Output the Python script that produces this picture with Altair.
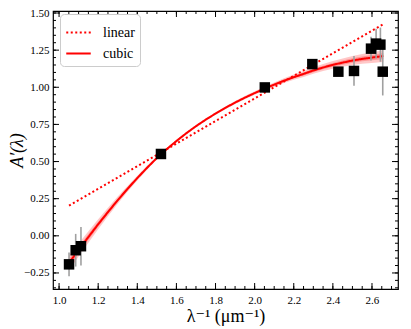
import altair as alt
import pandas as pd

# observed points
x_obs = [1.051, 1.085, 1.112, 1.521, 2.052, 2.295, 2.428, 2.508, 2.595, 2.621, 2.643, 2.655]
y_obs = [-0.192, -0.097, -0.070, 0.551, 0.999, 1.156, 1.105, 1.110, 1.260, 1.294, 1.287, 1.105]
err_obs = [0.08, 0.11, 0.13, 0.01, 0.01, 0.01, 0.01, 0.10, 0.08, 0.10, 0.115, 0.16]

# linear fit end points
x_lin = [1.051, 2.658]
y_lin = [0.203, 1.425]

# cubic fit curve
x_cub = [1.05, 1.10, 1.15, 1.20, 1.25, 1.30, 1.35, 1.40, 1.45, 1.50, 1.55, 1.60, 1.65,
         1.70, 1.75, 1.80, 1.85, 1.90, 1.95, 2.00, 2.05, 2.10, 2.15, 2.20, 2.25, 2.30,
         2.35, 2.40, 2.45, 2.50, 2.55, 2.60, 2.658]
y_cub = [-0.185, -0.095, -0.008, 0.078, 0.160, 0.240, 0.316, 0.389, 0.458, 0.524, 0.583,
         0.638, 0.690, 0.738, 0.782, 0.823, 0.861, 0.897, 0.930, 0.961, 0.990, 1.018,
         1.044, 1.068, 1.090, 1.113, 1.133, 1.151, 1.166, 1.180, 1.191, 1.200, 1.210]
w_cub = [0.050, 0.044, 0.039, 0.034, 0.029, 0.024, 0.020, 0.016, 0.013, 0.010, 0.009,
         0.008, 0.008, 0.008, 0.008, 0.008, 0.009, 0.010, 0.011, 0.012, 0.013, 0.014,
         0.016, 0.018, 0.020, 0.022, 0.024, 0.026, 0.028, 0.030, 0.033, 0.036, 0.040]

x_major = [1.0, 1.2, 1.4, 1.6, 1.8, 2.0, 2.2, 2.4, 2.6]
y_major = [-0.25, 0.0, 0.25, 0.5, 0.75, 1.0, 1.25, 1.5]
x_minor = [round(1.0 + 0.05 * i, 2) for i in range(35)]
y_minor = [round(-0.35 + 0.05 * i, 2) for i in range(38)]

W, H = 345, 278
XD = [0.969, 2.733]
YD = [-0.358, 1.5135]
FONT = "'Liberation Serif', 'DejaVu Serif', serif"

xs = alt.Scale(domain=XD, nice=False, zero=False)
ys = alt.Scale(domain=YD, nice=False, zero=False)

obs = pd.DataFrame({"x": x_obs, "y": y_obs,
                    "lo": [a - b for a, b in zip(y_obs, err_obs)],
                    "hi": [a + b for a, b in zip(y_obs, err_obs)]})
cub = pd.DataFrame({"x": x_cub, "y": y_cub,
                    "lo": [a - b for a, b in zip(y_cub, w_cub)],
                    "hi": [a + b for a, b in zip(y_cub, w_cub)],
                    "lo2": [a - b / 2 for a, b in zip(y_cub, w_cub)],
                    "hi2": [a + b / 2 for a, b in zip(y_cub, w_cub)]})
lines = pd.concat([
    pd.DataFrame({"x": x_lin, "y": y_lin, "kind": "linear"}),
    pd.DataFrame({"x": x_cub, "y": y_cub, "kind": "cubic"}),
])

axis_x = alt.Axis(values=x_major, format=".1f", ticks=False, domain=False, grid=False,
                  labelPadding=5, title="λ⁻¹ (μm⁻¹)", titleFontSize=18,
                  titleFont=FONT, titleFontWeight="normal", titlePadding=2)
axis_y = alt.Axis(values=y_major, format=".2f", ticks=False, domain=False, grid=False,
                  labelPadding=4, title="A′(λ)", titleFontSize=18, titleFont=FONT,
                  titleFontStyle="italic", titleFontWeight="normal",
                  titleX=-36, titleY=H / 2, titleAngle=270, titleAlign="center",
                  titleBaseline="middle")


def X(f):
    return alt.X(f, scale=xs, axis=axis_x)


def Y(f):
    return alt.Y(f, scale=ys, axis=axis_y)


band_outer = alt.Chart(cub).mark_area(color="red", opacity=0.22).encode(
    x=X("x:Q"), y=Y("lo:Q"), y2="hi:Q")
band_inner = alt.Chart(cub).mark_area(color="red", opacity=0.25).encode(
    x=X("x:Q"), y=Y("lo2:Q"), y2="hi2:Q")

leg = alt.Legend(title=None, orient="none", legendX=7, legendY=3,
                 symbolType="stroke", symbolSize=600,
                 symbolStrokeWidth=2, labelFont=FONT,
                 labelFontSize=14, labelColor="black",
                 strokeColor="#cccccc", fillColor="white",
                 cornerRadius=4, padding=5, rowPadding=-6, labelOffset=11)

line = alt.Chart(lines).mark_line(strokeWidth=2).encode(
    x=X("x:Q"),
    y=Y("y:Q"),
    detail="kind:N",
    order="x:Q",
    color=alt.Color("kind:N", scale=alt.Scale(domain=["linear", "cubic"], range=["red", "red"]),
                    legend=leg),
    strokeDash=alt.StrokeDash("kind:N",
                              scale=alt.Scale(domain=["linear", "cubic"], range=[[2, 2.5], [1, 0]]),
                              legend=leg),
)

errs = alt.Chart(obs).mark_rule(color="#a0a0a0", strokeWidth=1.6).encode(
    x=X("x:Q"), y=Y("lo:Q"), y2="hi:Q")
pts = alt.Chart(obs).mark_square(size=110, color="black", opacity=1).encode(
    x=X("x:Q"), y=Y("y:Q"))


def xticks(vals, ln):
    d = pd.DataFrame({"x": vals})
    b = alt.Chart(d).mark_rule(color="black", strokeWidth=1).encode(
        x=X("x:Q"), y=alt.value(H), y2=alt.value(H - ln))
    t = alt.Chart(d).mark_rule(color="black", strokeWidth=1).encode(
        x=X("x:Q"), y=alt.value(0), y2=alt.value(ln))
    return [b, t]


def yticks(vals, ln):
    d = pd.DataFrame({"y": vals})
    l = alt.Chart(d).mark_rule(color="black", strokeWidth=1).encode(
        y=Y("y:Q"), x=alt.value(0), x2=alt.value(ln))
    r = alt.Chart(d).mark_rule(color="black", strokeWidth=1).encode(
        y=Y("y:Q"), x=alt.value(W), x2=alt.value(W - ln))
    return [l, r]


ticks = xticks(x_major, 6) + xticks(x_minor, 3) + yticks(y_major, 6) + yticks(y_minor, 3)

chart = alt.layer(band_outer, band_inner, line, errs, pts, *ticks).properties(
    width=W, height=H,
    autosize=alt.AutoSizeParams(type="none"),
    padding={"left": 45, "top": 3, "right": 5, "bottom": 40},
).configure_view(stroke="black", strokeWidth=1.2).configure_axis(
    labelFont=FONT, labelFontSize=11, labelColor="black", titleColor="black"
)

chart.save("out.html", embed_options={"renderer": "svg", "actions": False})
